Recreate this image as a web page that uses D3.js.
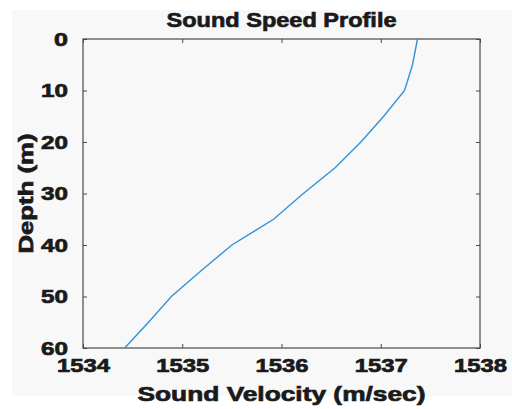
<!DOCTYPE html>
<html>
<head>
<meta charset="utf-8">
<script src="https://cdn.jsdelivr.net/npm/d3@7"></script>
<style>
  html, body { margin: 0; padding: 0; background: #ffffff; }
  svg { display: block; }
  text { font-family: "Liberation Sans", Arial, sans-serif; font-weight: bold; fill: #1a1a1a;
         stroke: #1a1a1a; stroke-width: 0.7px; }
</style>
</head>
<body>
<svg id="chart" width="512" height="409"></svg>
<script>
// Sound speed profile: velocity (m/s) at each depth (m)
const depths = [0, 5, 10, 15, 20, 25, 30, 35, 40, 45, 50, 55, 60];
const velocities = [1537.37, 1537.32, 1537.24, 1537.03, 1536.80, 1536.54, 1536.22,
                    1535.92, 1535.50, 1535.19, 1534.89, 1534.66, 1534.42];
const xTicks = [1534, 1535, 1536, 1537, 1538];
const yTicks = [0, 10, 20, 30, 40, 50, 60];
const titleText = "Sound Speed Profile";
const xLabel = "Sound Velocity (m/sec)";
const yLabel = "Depth (m)";

const svg = d3.select("#chart");
const W = 512, H = 409;
const plot = { left: 83, right: 480, top: 39, bottom: 348 };

// figure panel
svg.append("rect").attr("x", 12).attr("y", 10).attr("width", W - 12).attr("height", 386)
  .attr("fill", "#f8f8f8");

const x = d3.scaleLinear().domain([1534, 1538]).range([plot.left, plot.right]);
const y = d3.scaleLinear().domain([0, 60]).range([plot.top, plot.bottom]);

const axisColor = "#4a4a4a";
const tickLen = 4;

// bottom/top axes with inward ticks
const gb = svg.append("g").attr("transform", `translate(0,${plot.bottom})`)
  .call(d3.axisBottom(x).tickValues(xTicks).tickFormat(d3.format("d"))
    .tickSizeInner(-tickLen).tickSizeOuter(0).tickPadding(11));
const gt = svg.append("g").attr("transform", `translate(0,${plot.top})`)
  .call(d3.axisTop(x).tickValues(xTicks).tickFormat("").tickSizeInner(-tickLen).tickSizeOuter(0));
const gl = svg.append("g").attr("transform", `translate(${plot.left},0)`)
  .call(d3.axisLeft(y).tickValues(yTicks).tickFormat(d3.format("d"))
    .tickSizeInner(-tickLen).tickSizeOuter(0).tickPadding(15));
const gr = svg.append("g").attr("transform", `translate(${plot.right},0)`)
  .call(d3.axisRight(y).tickValues(yTicks).tickFormat("").tickSizeInner(-tickLen).tickSizeOuter(0));

[gb, gt, gl, gr].forEach(g => {
  g.select(".domain").remove();
  g.selectAll(".tick line").attr("stroke", axisColor);
  g.selectAll(".tick text").attr("fill", "#1a1a1a").style("font-size", "19px");
});
gb.selectAll(".tick text").attr("textLength", 53).attr("lengthAdjust", "spacingAndGlyphs");
gl.selectAll(".tick text").each(function(d) {
  const n = String(d).length;
  d3.select(this).attr("textLength", n === 1 ? 14 : 27).attr("lengthAdjust", "spacingAndGlyphs");
});

// axes box
svg.append("rect")
  .attr("x", plot.left).attr("y", plot.top)
  .attr("width", plot.right - plot.left).attr("height", plot.bottom - plot.top)
  .attr("fill", "none").attr("stroke", axisColor).attr("stroke-width", 1.2);

// profile line
const line = d3.line().x((d, i) => x(velocities[i])).y(d => y(d));
svg.append("path").datum(depths)
  .attr("d", line).attr("fill", "none")
  .attr("stroke", "#3493d6").attr("stroke-width", 1.4);

// title and axis labels
svg.append("text").attr("x", (plot.left + plot.right) / 2).attr("y", 27)
  .attr("text-anchor", "middle").style("font-size", "21px")
  .attr("textLength", 230).attr("lengthAdjust", "spacingAndGlyphs").text(titleText);
svg.append("text").attr("x", (plot.left + plot.right) / 2).attr("y", 401)
  .attr("text-anchor", "middle").style("font-size", "21px")
  .attr("textLength", 288).attr("lengthAdjust", "spacingAndGlyphs").text(xLabel);
svg.append("text").attr("transform", `translate(33,${(plot.top + plot.bottom) / 2}) rotate(-90)`)
  .attr("text-anchor", "middle").style("font-size", "21px")
  .attr("textLength", 120).attr("lengthAdjust", "spacingAndGlyphs").text(yLabel);
</script>
</body>
</html>
